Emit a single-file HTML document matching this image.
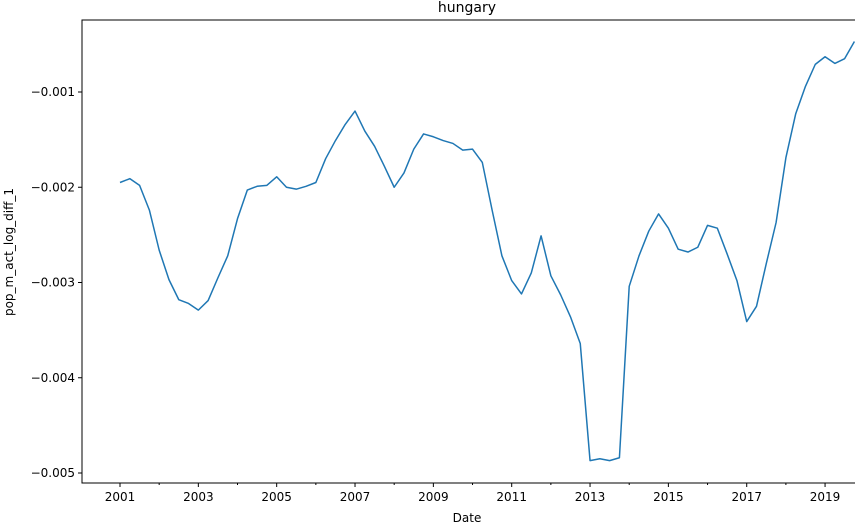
<!DOCTYPE html>
<html><head><meta charset="utf-8"><style>
body{margin:0;background:#fff}
svg text{font-family:"DejaVu Sans","Liberation Sans",sans-serif;fill:#000}
</style></head><body>
<svg id="chart" width="855" height="525">
<text x="467" y="12" font-size="14" text-anchor="middle">hungary</text>
<text x="467" y="522" font-size="12" text-anchor="middle">Date</text>
<text transform="translate(13,252) rotate(-90)" font-size="12" text-anchor="middle">pop_m_act_log_diff_1</text>
<g id="axes"></g>
</svg>
<script>
const startYear = 2001;
const values = [
-1.95,-1.91,-1.98,-2.24,
-2.66,-2.97,-3.18,-3.22,
-3.29,-3.19,-2.95,-2.72,
-2.33,-2.03,-1.99,-1.98,
-1.89,-2.00,-2.02,-1.99,
-1.95,-1.70,-1.51,-1.34,
-1.20,-1.41,-1.57,-1.78,
-2.00,-1.85,-1.60,-1.44,
-1.47,-1.51,-1.54,-1.61,
-1.60,-1.74,-2.24,-2.72,
-2.98,-3.12,-2.90,-2.51,
-2.93,-3.13,-3.36,-3.64,
-4.87,-4.85,-4.87,-4.84,
-3.04,-2.72,-2.46,-2.28,
-2.43,-2.65,-2.68,-2.63,
-2.40,-2.43,-2.70,-2.98,
-3.41,-3.25,-2.80,-2.37,
-1.69,-1.23,-0.94,-0.71,
-0.63,-0.70,-0.65,-0.47
];
const yTicks = [-1,-2,-3,-4,-5];
const yTickLabels = ["\u22120.001","\u22120.002","\u22120.003","\u22120.004","\u22120.005"];
const xTickYears = [2001,2002,2003,2004,2005,2006,2007,2008,2009,2010,2011,2012,2013,2014,2015,2016,2017,2018,2019];

const L=82,R=855,T=20,B=483;
const xs = yr => 120 + (yr-startYear)*39.17;
const ys = v => 92 + (-1 - v)*95.25;
const ns="http://www.w3.org/2000/svg";
const g=document.getElementById('axes');
function mk(tag,attrs){const e=document.createElementNS(ns,tag);for(const k in attrs)e.setAttribute(k,attrs[k]);g.appendChild(e);return e;}

let d='';
values.forEach((v,i)=>{d+=(i?'L':'M')+xs(startYear+i/4).toFixed(2)+','+ys(v).toFixed(2);});
const line=mk('path',{d:d,fill:'none',stroke:'#1f77b4','stroke-width':1.5,'stroke-linejoin':'round'});



const frame=mk('rect',{x:L,y:T,width:R-L+5,height:B-T,fill:'none',stroke:'#000','stroke-width':1});



yTicks.forEach((t,i)=>{
  const y=ys(t);
  const tk=mk('line',{x1:L-4,x2:L,y1:y,y2:y,stroke:'#000'});
  
  
  const tx=mk('text',{x:L-7,y:y+4,'font-size':12,'text-anchor':'end'});
  tx.textContent=yTickLabels[i];
  
  
});
xTickYears.forEach(yr=>{
  const x=xs(yr);const major=(yr%2===1);
  const tk=mk('line',{x1:x,x2:x,y1:B,y2:B+(major?4:2),stroke:'#000'});
  
  
  if(major){
    const tx=mk('text',{x:x,y:B+18,'font-size':12,'text-anchor':'middle'});
    tx.textContent=yr;
    
    
  }
});
</script>
</body></html>
